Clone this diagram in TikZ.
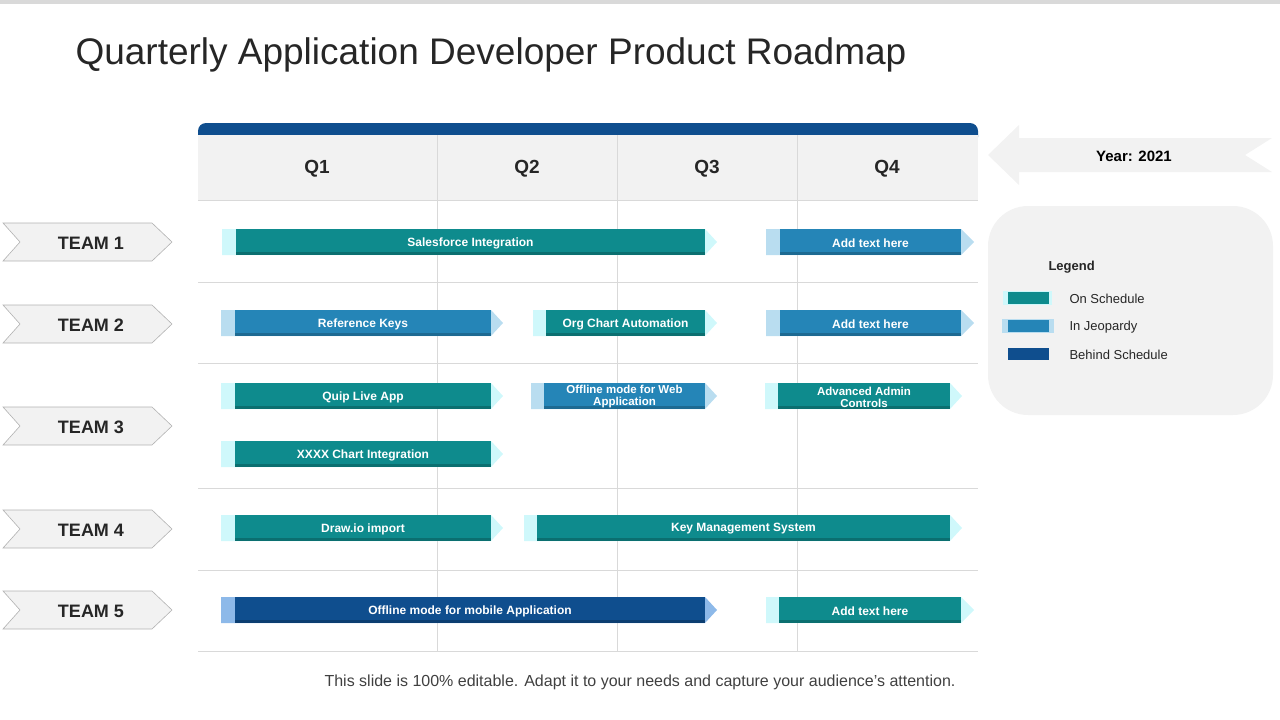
\documentclass[tikz,border=0pt]{standalone}
\usepackage{fontspec}
\setmainfont{Liberation Sans}
\begin{document}
\begin{tikzpicture}[x=1pt,y=-1pt]
\definecolor{teal1}{HTML}{0E8B8D}\definecolor{teall}{HTML}{CFF8FB}
\definecolor{jeo}{HTML}{2585B7}\definecolor{jeol}{HTML}{B9DDF0}
\definecolor{beh}{HTML}{0F4E8E}\definecolor{behl}{HTML}{8DB9E9}
\definecolor{gbg}{HTML}{F2F2F2}\definecolor{gline}{HTML}{D9D9D9}
\tikzset{bartxt/.style={text=white,font=\bfseries\fontsize{12}{12}\selectfont,align=center,inner sep=0pt},
teamtag/.style={fill=gbg,draw=gray!60,line width=0.6pt},
lbl/.style={font=\fontsize{13}{13}\selectfont,anchor=west,text=black!85}}
\useasboundingbox (0,0) rectangle (1280,720);
\fill[gline] (0,0) rectangle (1280,4);
\node[anchor=west,font=\fontsize{37}{37}\selectfont,text=black!85] (title) at (72,55) {Quarterly Application Developer Product Roadmap};
% header
\fill[beh,rounded corners=8pt] (198,123) rectangle (978,145);
\fill[gbg] (198,135) rectangle (978,200);
\foreach \y in {200,282,363,488,570,651} \draw[gline,line width=0.8pt] (198,\y) -- (978,\y);
\foreach \x in {437,617,797} \draw[gline,line width=0.8pt] (\x,135) -- (\x,651);
\foreach \t/\x in {Q1/317,Q2/527,Q3/707,Q4/887}
 \node[font=\bfseries\fontsize{19}{19}\selectfont,text=black!85] (h\t) at (\x,169) {\t};
\newcommand{\rbar}[9]{%
 \fill[#7] (#1,#5) -- (#3,#5) -- (#4,#5+13) -- (#3,#5+26) -- (#1,#5+26) -- cycle;
 \fill[#6] (#2,#5) rectangle (#3,#5+26);
 \fill[black,opacity=0.2] (#2,#5+23) rectangle (#3,#5+26);
 \node[bartxt] (#9) at ({(#2+#3)/2},#5+14) {#8};}
\rbar{222}{236}{705}{717}{229}{teal1}{teall}{Salesforce Integration}{b1}
\rbar{766}{780}{961}{974}{229}{jeo}{jeol}{Add text here}{b2}
\rbar{221}{235}{491}{503}{310}{jeo}{jeol}{Reference Keys}{b3}
\rbar{533}{546}{705}{717}{310}{teal1}{teall}{Org Chart Automation}{b4}
\rbar{766}{780}{961}{974}{310}{jeo}{jeol}{Add text here}{b5}
\rbar{221}{235}{491}{503}{383}{teal1}{teall}{Quip Live App}{b6}
\rbar{531}{544}{705}{717}{383}{jeo}{jeol}{{\fontsize{11.5}{12}\selectfont Offline mode for Web}\\{\fontsize{11.5}{12}\selectfont Application}}{b7}
\rbar{765}{778}{950}{962}{383}{teal1}{teall}{{\fontsize{11.5}{12}\selectfont Advanced Admin}\\{\fontsize{11.5}{12}\selectfont Controls}}{b8}
\rbar{221}{235}{491}{503}{441}{teal1}{teall}{XXXX Chart Integration}{b9}
\rbar{221}{235}{491}{503}{515}{teal1}{teall}{Draw.io import}{b10}
\rbar{524}{537}{950}{962}{515}{teal1}{teall}{Key Management System}{b11}
\rbar{221}{235}{705}{717}{597}{beh}{behl}{Offline mode for mobile Application}{b12}
\rbar{766}{779}{961}{974}{597}{teal1}{teall}{Add text here}{b13}
\foreach \n/\y in {1/242,2/324,3/426,4/529,5/610}{
 \draw[teamtag] (3,\y-19) -- (152,\y-19) -- (172,\y) -- (152,\y+19) -- (3,\y+19) -- (20,\y) -- cycle;
 \node[font=\bfseries\fontsize{18}{18}\selectfont,text=black!85] (t\n) at (91,\y+1) {TEAM \n};}
\fill[gbg] (988,155) -- (1019,125) -- (1019,138) -- (1272,138) -- (1245,155) -- (1272,172) -- (1019,172) -- (1019,185) -- cycle;
\node[font=\bfseries\fontsize{15}{15}\selectfont] (year) at (1134,156) {Year: 2021};
\fill[gbg,rounded corners=40pt] (988,206) rectangle (1273,415);
\node[anchor=west,font=\bfseries\fontsize{13}{13}\selectfont,text=black!85] (leg) at (1045,267) {Legend};
\fill[teall] (1003,291) rectangle (1052,305); \fill[teal1] (1008,292) rectangle (1049,304);
\fill[jeol] (1002,319) rectangle (1054,333); \fill[jeo] (1008,320) rectangle (1049,332);
\fill[beh] (1008,348) rectangle (1049,360);
\node[lbl] (l1) at (1066,299) {On Schedule};
\node[lbl] (l2) at (1066,327) {In Jeopardy};
\node[lbl] (l3) at (1066,355) {Behind Schedule};
\node[font=\fontsize{16}{16}\selectfont,text=black!75] (foot) at (640,682) {This slide is 100\% editable. Adapt it to your needs and capture your audience's attention.};
\end{tikzpicture}
\end{document}
